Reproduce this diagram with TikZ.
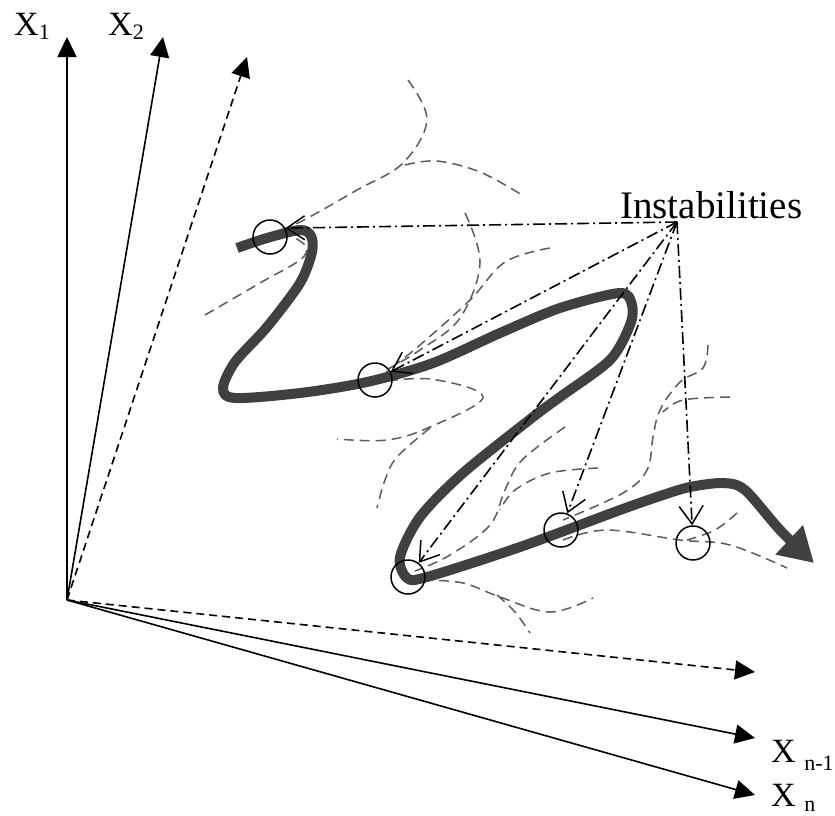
\documentclass[tikz,border=0pt]{standalone}
\usepackage{fontspec}
\setmainfont{Liberation Serif}
\usetikzlibrary{arrows.meta}
\definecolor{trajgray}{HTML}{404040}
\definecolor{nbgray}{HTML}{5C5C5C}
\newcommand{\axsub}[2][4pt]{\raisebox{-#1}{\fontsize{22}{22}\selectfont #2}}
\begin{document}
\begin{tikzpicture}[x=1pt, y=-1pt,
    axisline/.style={line width=1.6pt, -{Triangle[length=20pt,width=19pt]}},
    hiddenaxis/.style={axisline, dash pattern=on 8pt off 5pt},
    trajectory/.style={line width=10pt, trajgray, -{Triangle[length=34pt,width=38pt]}},
    nearby/.style={line width=1.5pt, nbgray, dash pattern=on 10pt off 6pt},
    spot/.style={circle, draw, line width=1.5pt, minimum size=34pt, inner sep=0pt},
    pointer/.style={line width=1.6pt, dash pattern=on 12pt off 4pt on 2pt off 4pt,
      -{Straight Barb[length=18pt,width=24pt,line width=1.5pt]}},
    axlabel/.style={font=\fontsize{34}{40}\selectfont, inner sep=0pt, anchor=base west}]
  \useasboundingbox (0,0) rectangle (835,815);
  % axes
  \coordinate (o) at (67,600);
  \coordinate (x1tip) at (67,37);
  \coordinate (x2tip) at (163,37);
  \coordinate (x3tip) at (247,57);
  \coordinate (xmtip) at (755,672);
  \coordinate (xn1tip) at (755,738);
  \coordinate (xntip) at (755,795);
  \draw[axisline] (o) -- (x1tip);
  \draw[axisline] (o) -- (x2tip);
  \draw[hiddenaxis] (o) -- (x3tip);
  \draw[hiddenaxis] (o) -- (xmtip);
  \draw[axisline] (o) -- (xn1tip);
  \draw[axisline] (o) -- (xntip);
  \node[axlabel] (x1) at (14,35) {X\axsub{1}};
  \node[axlabel] (x2) at (108,35) {X\axsub{2}};
  \node[axlabel] (xn1) at (771,762) {X \axsub[8pt]{n-1}};
  \node[axlabel] (xn) at (771,806) {X \axsub[5pt]{n}};
  % neighbouring paths
  \draw[nearby] plot[smooth, tension=0.6] coordinates {(408,80) (427,120) (403,163) (357,190) (300,222) (258,240)};
  \draw[nearby] plot[smooth, tension=0.6] coordinates {(405,165) (437,161) (480,172) (522,195)};
  \draw[nearby] plot[smooth, tension=0.6] coordinates {(205,315) (260,283) (300,260) (306,247) (295,238)};
  \draw[nearby] plot[smooth, tension=0.6] coordinates {(465,213) (480,263) (460,318) (420,350) (388,369)};
  \draw[nearby] plot[smooth, tension=0.6] coordinates {(550,248) (505,262) (470,300) (420,345) (386,372)};
  \draw[nearby] plot[smooth, tension=0.6] coordinates {(372,383) (430,379) (483,397) (430,427) (387,440) (337,439)};
  \draw[nearby] plot[smooth, tension=0.6] coordinates {(430,428) (397,457) (385,480) (377,508)};
  \draw[nearby] plot[smooth, tension=0.6] coordinates {(565,427) (522,460) (505,490) (490,525) (450,555) (415,571)};
  \draw[nearby] plot[smooth, tension=0.6] coordinates {(598,468) (550,473) (515,490) (500,510)};
  \draw[nearby] plot[smooth, tension=0.6] coordinates {(423,580) (463,583) (500,597) (550,612) (593,598)};
  \draw[nearby] plot[smooth, tension=0.6] coordinates {(497,595) (515,612) (530,633)};
  \draw[nearby] plot[smooth, tension=0.6] coordinates {(708,345) (703,368) (680,382) (660,410) (653,437) (647,470) (623,493) (563,520)};
  \draw[nearby] plot[smooth, tension=0.6] coordinates {(730,397) (683,400) (663,412)};
  \draw[nearby] plot[smooth, tension=0.6] coordinates {(563,540) (607,530) (680,540) (730,545) (787,568)};
  \draw[nearby] plot[smooth, tension=0.6] coordinates {(737,513) (715,530) (687,540)};
  % trajectory
  \draw[trajectory] plot[smooth, tension=0.5] coordinates {(237,248) (267,238) (300,230) (311,236) (312,252)
    (300,283) (267,327) (235,362) (223,388) (235,398) (300,393) (367,382) (433,363) (500,333) (560,308)
    (620,293) (632,305) (630,325) (610,360) (560,397) (533,417) (463,473) (420,517) (400,557) (407,578)
    (427,577) (520,547) (620,510) (663,495) (690,487) (723,483) (745,490) (780,530) (814,563)};
  % instabilities
  \node[spot] (c1) at (270,237) {};
  \node[spot] (c2) at (375,380) {};
  \node[spot] (c3) at (408,577) {};
  \node[spot] (c4) at (561,530) {};
  \node[spot] (c5) at (693,543) {};
  \node[font=\fontsize{39}{44}\selectfont, inner sep=0pt, anchor=base west] (inst) at (620,218) {Instabilities};
  \coordinate (src) at (677,222);
  \draw[pointer] (src) -- (c1.30);
  \draw[pointer] (src) -- (c2);
  \draw[pointer] (src) -- (c3);
  \draw[pointer] (src) -- (c4);
  \draw[pointer] (src) -- (c5);
\end{tikzpicture}
\end{document}
